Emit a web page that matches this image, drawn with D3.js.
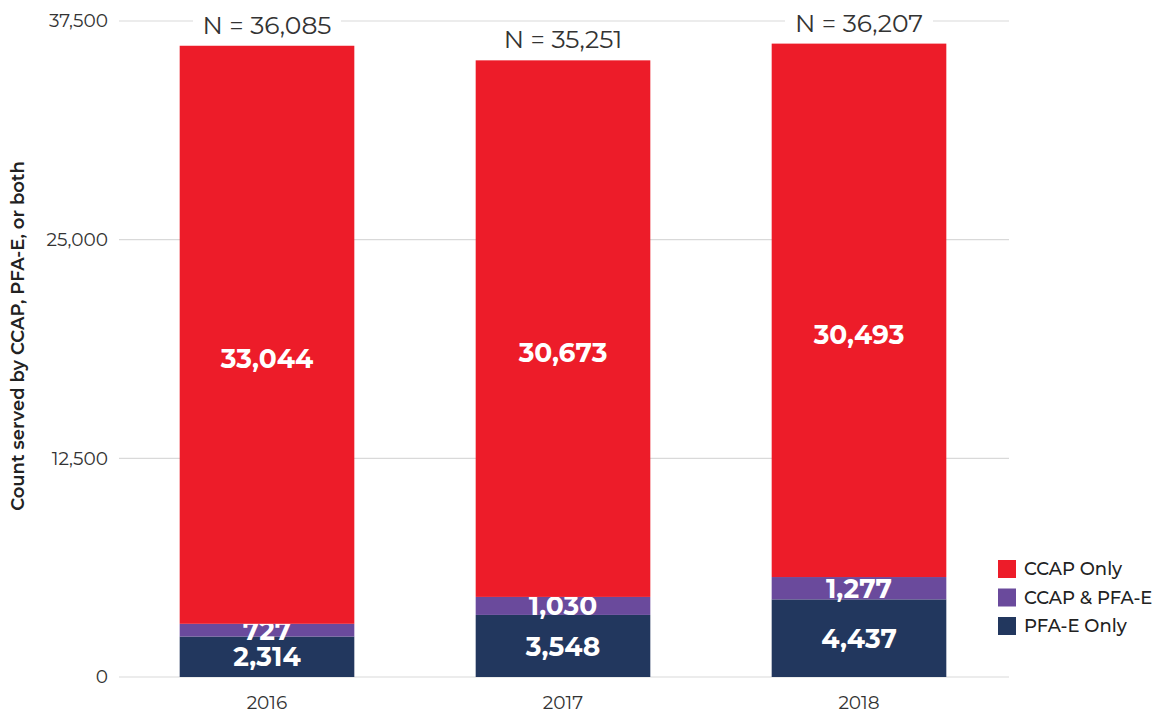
<!DOCTYPE html>
<html>
<head>
<meta charset="utf-8">
<script src="https://cdn.jsdelivr.net/npm/d3@7"></script>
<style>
  body { margin: 0; background: #fff; }
  text { font-family: "Montserrat", "Open Sans", sans-serif; }
</style>
</head>
<body>
<div id="chart"></div>
<script>
var years = ['2016', '2017', '2018'];
var seriesNames = ['PFA-E Only', 'CCAP & PFA-E', 'CCAP Only'];
var pfaOnly = [2314, 3548, 4437];
var both = [727, 1030, 1277];
var ccapOnly = [33044, 30673, 30493];
var totals = [36085, 35251, 36207];
var yTicks = [0, 12500, 25000, 37500];
var colors = ['#22375e', '#6a4a9c', '#ed1c29'];

var width = 1167, height = 715;
var margin = {top: 21, right: 160, bottom: 38, left: 119};

var svg = d3.select('#chart').append('svg')
  .attr('width', width)
  .attr('height', height);

var rows = years.map(function(y, i) {
  return {year: y, 'PFA-E Only': pfaOnly[i], 'CCAP & PFA-E': both[i], 'CCAP Only': ccapOnly[i], total: totals[i]};
});

var stack = d3.stack().keys(seriesNames)(rows);

var x = d3.scaleBand()
  .domain(years)
  .range([margin.left, 1007])
  .paddingInner(0.41)
  .paddingOuter(0.205);

var y = d3.scaleLinear()
  .domain([0, 37500])
  .range([height - margin.bottom, margin.top]);

var color = d3.scaleOrdinal().domain(seriesNames).range(colors);

// gridlines
svg.append('g').selectAll('line')
  .data(yTicks)
  .enter().append('line')
    .attr('x1', margin.left)
    .attr('x2', 1009)
    .attr('y1', function(d) { return y(d); })
    .attr('y2', function(d) { return y(d); })
    .attr('stroke', '#d9d9d9')
    .attr('stroke-width', 1.2);

// y tick labels
svg.append('g').selectAll('text')
  .data(yTicks)
  .enter().append('text')
    .attr('x', 108)
    .attr('y', function(d) { return y(d); })
    .attr('dy', '0.35em')
    .attr('text-anchor', 'end')
    .attr('font-size', '18.5px')
    .attr('fill', '#333')
    .text(function(d) { return d3.format(',')(d); });

// x labels
svg.append('g').selectAll('text')
  .data(years)
  .enter().append('text')
    .attr('x', function(d) { return x(d) + x.bandwidth() / 2; })
    .attr('y', 703)
    .attr('dy', '0.35em')
    .attr('text-anchor', 'middle')
    .attr('font-size', '18.5px')
    .attr('fill', '#333')
    .text(function(d) { return d; });

// axis title
svg.append('text')
  .attr('transform', 'translate(18,336) rotate(-90)')
  .attr('dy', '0.35em')
  .attr('text-anchor', 'middle')
  .attr('font-size', '18px')
  .attr('font-weight', 600)
  .attr('fill', '#222')
  .text('Count served by CCAP, PFA-E, or both');

// bars
var layers = svg.append('g').selectAll('g')
  .data(stack)
  .enter().append('g')
    .attr('fill', function(d) { return color(d.key); });

layers.selectAll('rect')
  .data(function(d) { return d; })
  .enter().append('rect')
    .attr('x', function(d) { return x(d.data.year); })
    .attr('width', x.bandwidth())
    .attr('y', function(d) { return y(d[1]); })
    .attr('height', function(d) { return y(d[0]) - y(d[1]); });

// segment labels (big segment labels sit a bit below the middle)
layers.selectAll('text')
  .data(function(d) { return d; })
  .enter().append('text')
    .attr('x', function(d) { return x(d.data.year) + x.bandwidth() / 2; })
    .attr('y', function(d) {
      var mid = y((d[0] + d[1]) / 2);
      return (y(d[0]) - y(d[1]) > 200) ? mid + 24 : mid;
    })
    .attr('dy', '0.36em')
    .attr('text-anchor', 'middle')
    .attr('font-size', '26.5px')
    .attr('font-weight', 'bold')
    .attr('fill', '#fff')
    .text(function(d) { return d3.format(',')(d[1] - d[0]); });

// totals
var tot = svg.append('g').selectAll('g')
  .data(rows)
  .enter().append('g')
    .attr('transform', function(d) {
      return 'translate(' + (x(d.year) + x.bandwidth() / 2) + ',' + (y(d.total) - 21) + ')';
    });

tot.append('rect')
  .attr('x', -74)
  .attr('y', -14)
  .attr('width', 148)
  .attr('height', 28)
  .attr('fill', '#fff');

tot.append('text')
  .attr('dy', '0.36em')
  .attr('text-anchor', 'middle')
  .attr('font-size', '25px')
  .attr('fill', '#333')
  .text(function(d) { return 'N = ' + d3.format(',')(d.total); });

// legend
var legendOrder = ['CCAP Only', 'CCAP & PFA-E', 'PFA-E Only'];
var legend = svg.append('g').selectAll('g')
  .data(legendOrder)
  .enter().append('g')
    .attr('transform', function(d, i) { return 'translate(998,' + (569 + i * 28.5) + ')'; });

legend.append('rect')
  .attr('y', -9)
  .attr('width', 18)
  .attr('height', 18)
  .attr('fill', function(d) { return color(d); });

legend.append('text')
  .attr('x', 26)
  .attr('dy', '0.35em')
  .attr('font-size', '18px')
  .attr('font-weight', 500)
  .attr('fill', '#222')
  .text(function(d) { return d; });
</script>
</body>
</html>
